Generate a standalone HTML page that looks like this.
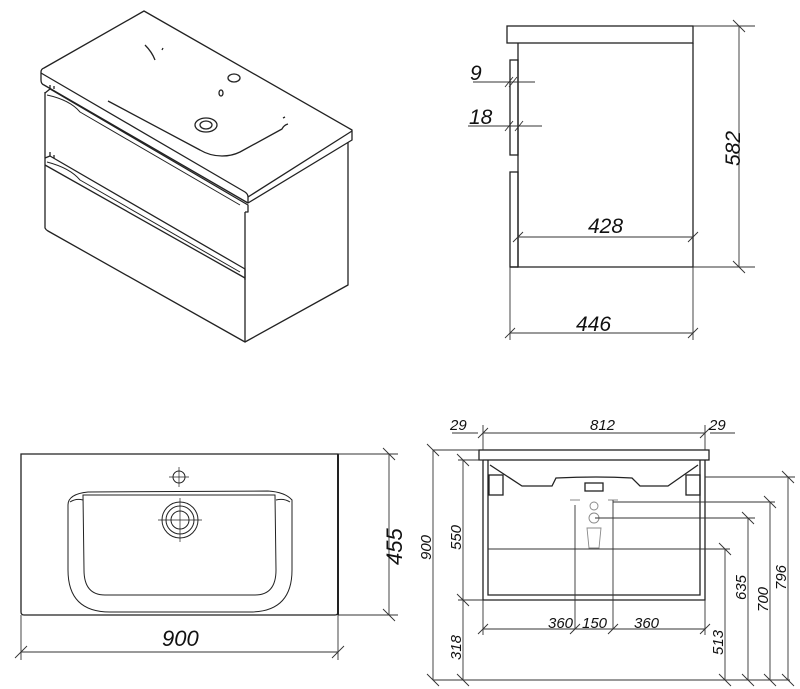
<!DOCTYPE html>
<html><head><meta charset="utf-8"><style>
html,body{margin:0;padding:0;background:#fff;}
svg{display:block;}
text{font-family:"Liberation Sans",sans-serif;font-style:italic;fill:#111;}
.l{stroke:#222;stroke-width:1.3;fill:none;}
.t{stroke:#333;stroke-width:0.9;fill:none;}
</style></head><body>
<svg width="800" height="689" viewBox="0 0 800 689" xmlns="http://www.w3.org/2000/svg">
<!-- ISO VIEW -->
<g class="l" stroke-linejoin="round">
<path d="M41,72 Q41,69 44,68 L144,11 L352,130 L352,140 L248,203 L44,85 Q41,84 41,80 Z"/>
<path d="M41,73 L245,192 Q248,194 248,197 L248,203"/>
<path d="M248,197 L352,131"/>
<path d="M45,92 L45,228 Q46,230 48,231 L245,342 L245,212"/>
<path d="M245,342 L348,285 L348,142"/>
<path d="M45,93 L50,89 L248,205 L248,212 L245,212"/>
<path d="M45,158 L50,156 L245,269 L245,280"/>
<path d="M45,165 L245,278"/>
<path d="M47,95 Q70,100 80,112 L240,205" stroke-width="1"/>
<path d="M47,162 Q70,168 80,180 L240,272" stroke-width="1"/>
<path d="M50,89 L50,85 M54,89 L54,86 M50,156 L50,152 M54,158 L54,155"/>
<path d="M108,101 L200,150 Q210,156 222,156 Q232,156 240,152 L282,129 Q284,125 288,124"/>
<path d="M283,118 L285,117 M145,45 Q152,52 155,60 M162,50 L163,48"/>
<ellipse cx="206" cy="125" rx="11" ry="7"/>
<ellipse cx="206" cy="125" rx="6" ry="4"/>
<ellipse cx="234" cy="78" rx="6" ry="4"/>
<ellipse cx="221" cy="93" rx="2" ry="3"/>
</g>

<!-- SIDE VIEW -->
<g class="l">
<rect x="507" y="26" width="186" height="17"/>
<path d="M518,43 L518,267 L693,267 L693,43"/>
<path d="M510,267 L518,267"/>
<rect x="510" y="60" width="8" height="95"/>
<rect x="510" y="172" width="8" height="95"/>
</g>
<g class="t">
<path d="M693,26 L755,26 M693,267 L755,267 M739,26 L739,267"/>
<path d="M733,20 L745,32 M733,261 L745,273"/>
<path d="M510,267 L510,340 M693,267 L693,340 M510,333 L693,333"/>
<path d="M505,338 L515,328 M688,338 L698,328"/>
<path d="M518,237 L693,237 M513,242 L523,232 M688,242 L698,232"/>
<path d="M473,82 L535,82 M505,87 L513,77 M509,87 L517,77"/>
<path d="M468,126 L542,126 M505,131 L513,121 M515,131 L523,121"/>
</g>
<text x="470" y="80" font-size="21">9</text>
<text x="469" y="124" font-size="21">18</text>
<text x="588" y="233" font-size="21">428</text>
<text x="576" y="331" font-size="21">446</text>
<text transform="translate(740,166) rotate(-90)" font-size="21">582</text>

<!-- TOP VIEW -->
<g class="l">
<path d="M21,454 L338,454 L338,612 Q338,615 335,615 L24,615 Q21,615 21,612 Z"/>
<path d="M338,454 L338,615" stroke-width="2"/>
<path d="M88,492 L268,491 Q285,492 292,500 L292,570 Q292,612 250,612 L110,612 Q68,612 68,570 L68,505 Q68,494 88,492 Z" stroke-width="1"/>
<path d="M83,495 L275,495 L276,570 Q276,595 255,595 L105,595 Q84,595 84,570 Z" stroke-width="1"/>
<path d="M70,502 Q76,498 83,500 M290,502 Q284,498 276,500" stroke-width="1"/>
<circle cx="180" cy="520" r="18" stroke-width="1"/>
<circle cx="180" cy="520" r="14" stroke-width="1"/>
<circle cx="180" cy="520" r="9" stroke-width="1"/>
<circle cx="179" cy="477" r="6" stroke-width="1"/>
<path d="M179,467 L179,487 M169,477 L189,477 M158,520 L202,520 M180,498 L180,542 M176,495 L184,495" stroke-width="0.7"/>
</g>
<g class="t">
<path d="M338,454 L398,454 M338,615 L398,615 M389,454 L389,615 M383,448 L395,460 M383,609 L395,621"/>
<path d="M21,615 L21,660 M338,615 L338,660 M21,652 L338,652 M15,658 L27,646 M332,658 L344,646"/>
</g>
<text transform="translate(402,565) rotate(-90)" font-size="22">455</text>
<text x="162" y="646" font-size="22">900</text>

<!-- FRONT VIEW -->
<g class="l" stroke-width="1">
<rect x="479" y="450" width="230" height="10"/>
<path d="M483,460 L483,600 L705,600 L705,460"/>
<path d="M488,460 L488,595 L700,595 L700,460"/>
<path d="M488,549 L700,549" class="t"/>
<path d="M490,465 L522,486 L552,486 L556,478 Q598,476 632,478 L640,486 L668,486 L698,465"/>
<rect x="585" y="483" width="18" height="8"/>
<rect x="489" y="475" width="14" height="20"/>
<rect x="686" y="475" width="14" height="20"/>
</g>
<g stroke="#888" stroke-width="0.9" fill="none">
<circle cx="594" cy="506" r="4"/><circle cx="594" cy="518" r="5"/>
<path d="M587,528 L601,528 L599,548 L589,548 Z"/>
<path d="M570,500 L580,500 M608,500 L618,500"/>
</g>
<g class="t">
<path d="M483,433 L705,433 M483,425 L483,450 M705,425 L705,450 M452,433 L478,433 M710,433 L735,433"/>
<path d="M478,438 L488,428 M700,438 L710,428"/>
<path d="M433,450 L479,450 M433,450 L433,680 M427,444 L439,456 M427,674 L439,686"/>
<path d="M458,460 L483,460 M463,460 L463,680 M458,600 L483,600 M457,454 L469,466 M457,594 L469,606 M457,674 L469,686"/>
<path d="M433,680 L790,680"/>
<path d="M483,600 L483,635 M705,600 L705,635 M483,629 L705,629 M575,505 L575,629 M613,500 L613,629"/>
<path d="M478,634 L488,624 M570,634 L580,624 M608,634 L618,624 M700,634 L710,624"/>
<path d="M700,549 L730,549 M725,549 L725,680 M719,543 L731,555 M719,674 L731,686"/>
<path d="M595,518 L755,518 M748,518 L748,680 M742,512 L754,524 M742,674 L754,686"/>
<path d="M613,502 L775,502 M770,502 L770,680 M764,496 L776,508 M764,674 L776,686"/>
<path d="M705,477 L795,477 M788,477 L788,680 M782,471 L794,483 M782,674 L794,686"/>
</g>
<g font-size="15">
<text x="450" y="430">29</text>
<text x="590" y="430">812</text>
<text x="709" y="430">29</text>
<text x="548" y="628">360</text>
<text x="582" y="628">150</text>
<text x="634" y="628">360</text>
<text transform="translate(431,560) rotate(-90)">900</text>
<text transform="translate(461,550) rotate(-90)">550</text>
<text transform="translate(461,660) rotate(-90)">318</text>
<text transform="translate(723,655) rotate(-90)">513</text>
<text transform="translate(746,600) rotate(-90)">635</text>
<text transform="translate(768,612) rotate(-90)">700</text>
<text transform="translate(786,590) rotate(-90)">796</text>
</g>
</svg>
</body></html>
